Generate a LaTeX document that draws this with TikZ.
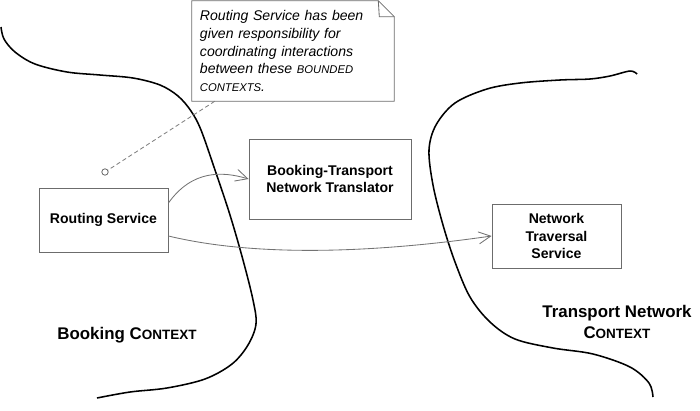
\documentclass[tikz,border=0pt]{standalone}
\usepackage{fontspec}
\setmainfont{Liberation Sans}
\usetikzlibrary{positioning,calc,arrows.meta}
\newcommand\capsmall[1]{\scalebox{0.8}{#1}}

\begin{document}
\begin{tikzpicture}[x=0.025cm,y=-0.025cm,
  box/.style={draw=gray!85!black,line width=0.6pt,fill=white,align=center,
    font=\fontsize{10}{12.4}\selectfont\bfseries,inner sep=0pt,
    minimum width=3.225cm,minimum height=1.6cm},
  link/.style={draw=gray!90!black,line width=0.6pt,
    -{Straight Barb[length=0.3cm,width=0.3cm,line width=0.6pt]}},
  border/.style={line width=1.1pt},
  ctx/.style={font=\fontsize{12}{14.5}\selectfont\bfseries,align=center}]
 \useasboundingbox (0,0) rectangle (700,410);

 % context borders
 \draw[border] plot[smooth,tension=0.55] coordinates {(1,27) (4,39) (15,52) (35,64) (67,72) (100,75) (133,78) (160,85) (178,96) (191,111) (201,130) (215,170) (230,215) (243,260) (253,300) (256,324) (248,345) (232,364) (205,379) (167,388) (130,392) (97,398)};
 \draw[border] plot[smooth,tension=0.55] coordinates {(637,74) (630,71) (610,76) (590,79) (560,80) (520,83) (487,89) (455,103) (436,125) (429,150) (433,185) (443,225) (455,262) (470,297) (490,322) (515,339) (553,348) (593,354) (630,367) (649,383) (653,397)};

 % note
 \node[align=left,font=\fontsize{10}{12.5}\selectfont\itshape,inner sep=0pt,
   minimum width=5.05cm,minimum height=2.5cm,text width=4.65cm] (note) at (293,51)
   {Routing Service has been\\given responsibility for\\coordinating interactions\\between these \capsmall{BOUNDED}\\\capsmall{CONTEXTS}.};
 \draw[gray!85!black,line width=0.6pt] (note.north west) -- ($(note.north east)+(-16,0)$) -- ($(note.north east)+(0,16)$) -- (note.south east) -- (note.south west) -- cycle;
 \draw[gray!85!black,line width=0.6pt] ($(note.north east)+(-16,0)$) -- ($(note.north east)+(-15,16)$) -- ($(note.north east)+(0,16)$);
 \coordinate (notefoot) at ($(note.south west)+(23,0)$);
 \node[circle,draw=gray!85!black,line width=0.6pt,fill=white,minimum size=0.16cm,inner sep=0pt] (pin) at (105,172) {};
 \draw[gray,line width=0.6pt,dash pattern=on 3pt off 2pt] (notefoot) -- (pin);

 % services
 \node[box] (rs) at (103.5,220) {Routing Service};
 \node[box,minimum width=4.05cm,minimum height=2cm] (bt) at (330,179) {Booking-Transport\\Network Translator};
 \node[box] (nts) at (556.5,236) {Network\\Traversal\\Service};

 \draw[link] ($(rs.east)+(0,-17)$) .. controls (192,170) and (222,171) .. (bt.west);
 \draw[link] ($(rs.east)+(0,16)$) .. controls (260,258) and (380,252) .. (nts.west);

 % labels
 \node[ctx] (bctx) at (127,335) {Booking C\capsmall{ONTEXT}};
 \node[ctx] (tctx) at (617,322) {Transport Network\\C\capsmall{ONTEXT}};
\end{tikzpicture}
\end{document}
